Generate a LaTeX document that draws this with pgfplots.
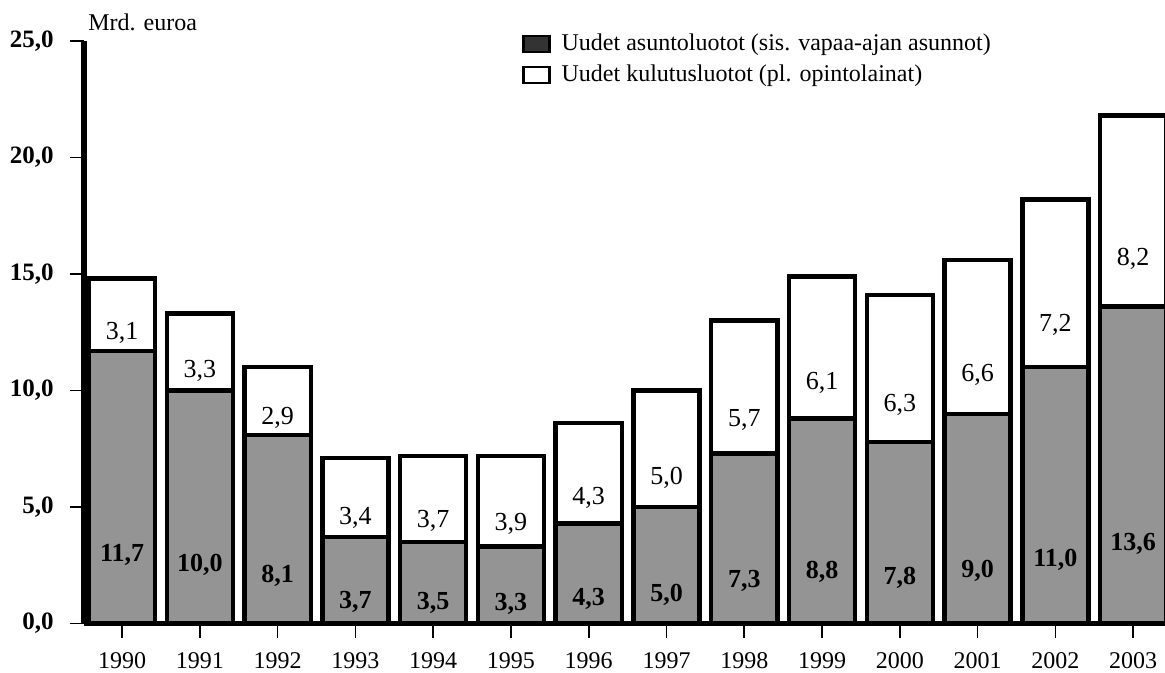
\documentclass[12pt,border=0pt]{standalone}
\usepackage{fontspec}
\setmainfont{Liberation Serif}
\usepackage{pgfplots}
\pgfplotsset{compat=1.18}

\definecolor{stipple}{gray}{0.58}

\begin{document}
\begin{tikzpicture}
\begin{axis}[
    name=ax,
    at={(0,0)}, anchor=south west,
    scale only axis, width=540.5pt, height=291.25pt,
    ybar stacked, bar width=0.85,
    xmin=-0.49, xmax=13.41, ymin=0, ymax=25,
    enlargelimits=false,
    axis lines*=left,
    x axis line style={line width=2.2pt},
    y axis line style={line width=3pt},
    tick align=outside, major tick length=7pt,
    tick style={black, line width=0.8pt},
    xtick={0,1,2,3,4,5,6,7,8,9,10,11,12,13},
    xticklabels={1990,1991,1992,1993,1994,1995,1996,1997,1998,1999,2000,2001,2002,2003},
    xticklabel style={yshift=-3.5pt},
    ytick={0,5,10,15,20,25},
    yticklabel style={font=\bfseries\fontsize{12.5}{14}\selectfont, xshift=-4pt},
    /pgf/number format/.cd, fixed, fixed zerofill, precision=1, use comma, assume math mode=true, /pgfplots/.cd,
    legend cell align=left,
    legend style={draw=none, fill=none, at={(rel axis cs:0.405,1.02)}, anchor=north west,
        inner sep=0pt, row sep=1.5pt, column sep=3.5pt},
]
% uudet asuntoluotot
\addplot[fill=stipple, draw=black, line width=2.2pt,
    nodes near coords, point meta=explicit,
    visualization depends on={rawy \as \segh},
    every node near coord/.append style={font=\bfseries\fontsize{13}{15}\selectfont, anchor=center, yshift=-\segh*2.9125pt},
    legend image code/.code={\draw[fill=black!80, draw=black, line width=1.2pt] (0pt,-4pt) rectangle (13pt,4pt);}]
coordinates {
    (0,11.7) [11.7] (1,10.0) [10.0] (2,8.1) [8.1] (3,3.7) [3.7] (4,3.5) [3.5]
    (5,3.3) [3.3] (6,4.3) [4.3] (7,5.0) [5.0] (8,7.3) [7.3] (9,8.8) [8.8]
    (10,7.8) [7.8] (11,9.0) [9.0] (12,11.0) [11.0] (13,13.6) [13.6]
};
\addlegendentry{Uudet asuntoluotot (sis. vapaa-ajan asunnot)}
% uudet kulutusluotot
\addplot[fill=white, draw=black, line width=2.2pt,
    nodes near coords, point meta=explicit,
    visualization depends on={rawy \as \segh},
    every node near coord/.append style={font=\fontsize{13}{15}\selectfont, anchor=center, yshift=-\segh*2.9125pt},
    legend image code/.code={\draw[fill=white, draw=black, line width=1.2pt] (0pt,-4pt) rectangle (13pt,4pt);}]
coordinates {
    (0,3.1) [3.1] (1,3.3) [3.3] (2,2.9) [2.9] (3,3.4) [3.4] (4,3.7) [3.7]
    (5,3.9) [3.9] (6,4.3) [4.3] (7,5.0) [5.0] (8,5.7) [5.7] (9,6.1) [6.1]
    (10,6.3) [6.3] (11,6.6) [6.6] (12,7.2) [7.2] (13,8.2) [8.2]
};
\addlegendentry{Uudet kulutusluotot (pl. opintolainat)}
\end{axis}
\node[anchor=base west, inner sep=0pt] at ([xshift=2pt,yshift=5pt]ax.north west) {Mrd. euroa};
\pgfresetboundingbox
\path[use as bounding box] (-42pt,-24.75pt) rectangle (540.5pt,311.75pt);
\end{tikzpicture}
\end{document}
